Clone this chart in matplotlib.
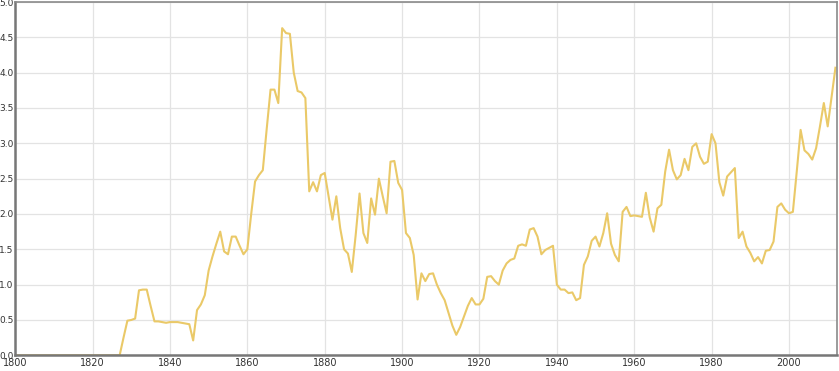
import matplotlib
matplotlib.use('Agg')
import matplotlib.pyplot as plt

# Yearly values, 1800-2012
years = list(range(1800, 2013))

values = [
    # 1800s
    0.0, 0.0, 0.0, 0.0, 0.0, 0.0, 0.0, 0.0, 0.0, 0.0,
    # 1810s
    0.0, 0.0, 0.0, 0.0, 0.0, 0.0, 0.0, 0.0, 0.0, 0.0,
    # 1820s
    0.0, 0.0, 0.0, 0.0, 0.0, 0.0, 0.0, 0.0, 0.25, 0.49,
    # 1830s
    0.50, 0.52, 0.92, 0.93, 0.93, 0.70, 0.48, 0.48, 0.47, 0.46,
    # 1840s
    0.47, 0.47, 0.47, 0.46, 0.45, 0.44, 0.21, 0.64, 0.72, 0.85,
    # 1850s
    1.20, 1.40, 1.58, 1.75, 1.47, 1.43, 1.68, 1.68, 1.55, 1.43,
    # 1860s
    1.50, 2.00, 2.46, 2.55, 2.62, 3.20, 3.76, 3.76, 3.57, 4.63,
    # 1870s
    4.56, 4.55, 4.00, 3.74, 3.72, 3.64, 2.32, 2.45, 2.32, 2.55,
    # 1880s
    2.58, 2.25, 1.92, 2.25, 1.80, 1.50, 1.44, 1.18, 1.70, 2.29,
    # 1890s
    1.73, 1.59, 2.22, 1.99, 2.50, 2.25, 2.01, 2.74, 2.75, 2.44,
    # 1900s
    2.34, 1.73, 1.66, 1.42, 0.79, 1.16, 1.05, 1.15, 1.16, 1.00,
    # 1910s
    0.88, 0.78, 0.60, 0.42, 0.29, 0.40, 0.55, 0.70, 0.81, 0.72,
    # 1920s
    0.72, 0.80, 1.11, 1.12, 1.05, 1.00, 1.20, 1.30, 1.35, 1.37,
    # 1930s
    1.55, 1.57, 1.55, 1.78, 1.80, 1.68, 1.43, 1.49, 1.52, 1.55,
    # 1940s
    1.00, 0.93, 0.93, 0.88, 0.89, 0.78, 0.81, 1.28, 1.40, 1.62,
    # 1950s
    1.68, 1.54, 1.73, 2.01, 1.58, 1.42, 1.33, 2.03, 2.10, 1.97,
    # 1960s
    1.98, 1.97, 1.96, 2.30, 1.95, 1.75, 2.08, 2.13, 2.60, 2.91,
    # 1970s
    2.62, 2.49, 2.55, 2.78, 2.62, 2.95, 3.00, 2.81, 2.71, 2.74,
    # 1980s
    3.13, 3.00, 2.45, 2.26, 2.53, 2.59, 2.65, 1.66, 1.75, 1.54,
    # 1990s
    1.45, 1.33, 1.39, 1.30, 1.48, 1.49, 1.61, 2.10, 2.15, 2.06,
    # 2000s
    2.01, 2.03, 2.60, 3.19, 2.90, 2.85, 2.77, 2.93, 3.24, 3.57,
    # 2010s
    3.24, 3.66, 4.07,
]

x_ticks = [1800, 1820, 1840, 1860, 1880, 1900, 1920, 1940, 1960, 1980, 2000]
y_ticks = [0.0, 0.5, 1.0, 1.5, 2.0, 2.5, 3.0, 3.5, 4.0, 4.5, 5.0]

fig = plt.figure(figsize=(8.39, 3.71), dpi=100)
ax = fig.add_axes([0.0181, 0.0423, 0.9795, 0.9523])

ax.plot(years, values, color='#EAC968', linewidth=1.5)

ax.set_xlim(1800, 2012.4)
ax.set_ylim(0, 5)
ax.set_xticks(x_ticks)
ax.set_yticks(y_ticks)
ax.set_yticklabels([f'{v:.1f}' for v in y_ticks])

ax.grid(True, color='#e3e3e3', linewidth=0.9)
ax.set_axisbelow(True)

ax.tick_params(axis='x', length=0, labelsize=7, colors='#333333', pad=2)
ax.tick_params(axis='y', length=0, labelsize=6.5, colors='#333333', pad=1)

for side in ['top', 'right']:
    ax.spines[side].set_color('#8a8a8a')
    ax.spines[side].set_linewidth(1.2)
for side in ['left', 'bottom']:
    ax.spines[side].set_color('#777777')
    ax.spines[side].set_linewidth(1.8)

plt.savefig('out.png', dpi=100)
